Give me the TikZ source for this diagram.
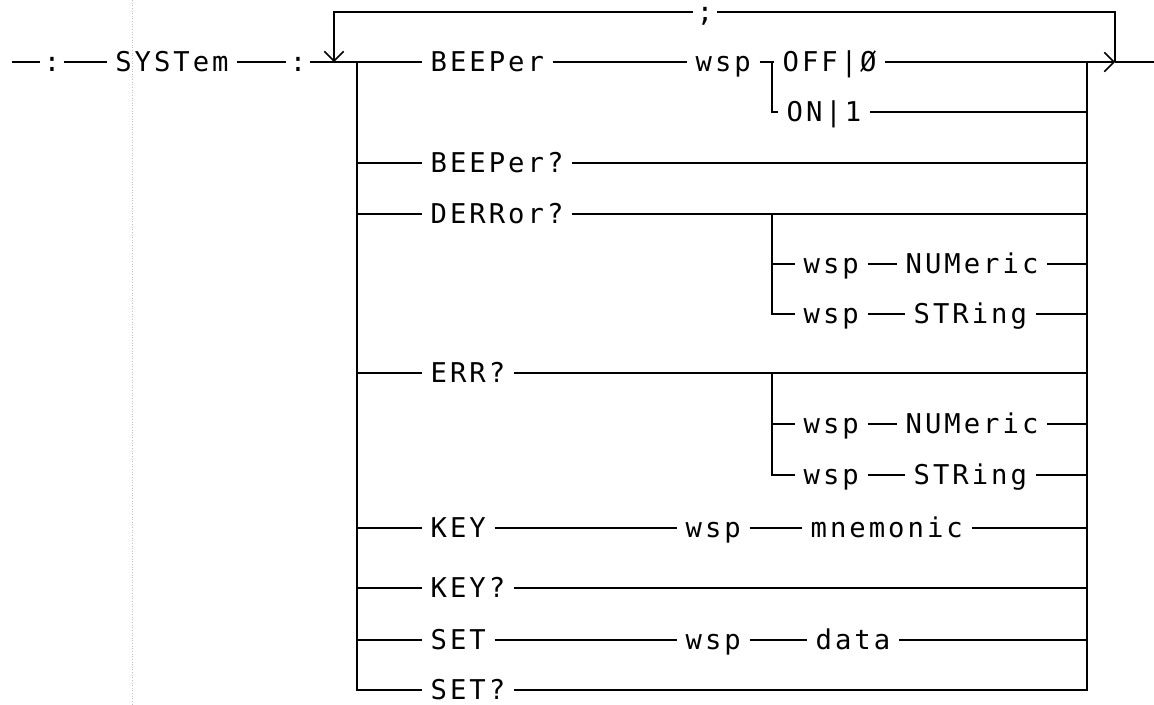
\documentclass[tikz,border=0pt]{standalone}
\usepackage{fontspec}
\setmonofont{DejaVu Sans Mono}[LetterSpace=11]
\usetikzlibrary{arrows.meta}

\begin{document}
\begin{tikzpicture}[x=0.02cm,y=-0.02cm,line width=0.9pt,
  lbl/.style={font=\ttfamily\fontsize{15.5}{18}\selectfont,text height=11.3pt,text depth=0pt,inner ysep=0pt,inner xsep=4.5pt,anchor=west},
  sep/.style={lbl,inner xsep=1.5pt,anchor=center},
  tip/.style={-{Straight Barb[length=5.5pt,width=11pt]}}]
\useasboundingbox (0,0) rectangle (1154,704);
\draw[gray!50,densely dotted,line width=0.5pt] (132,0) -- (132,704);
\coordinate (in) at (12,62);
\node[sep] (c1) at (52,62) {:};
\node[lbl,anchor=center] (sys) at (172,62) {SYSTem};
\node[sep] (c2) at (298,62) {:};
\coordinate (lp) at (334,62);
\coordinate (lt) at (357,62);
\coordinate (lb) at (357,690);
\coordinate (rt) at (1087,62);
\coordinate (rb) at (1087,690);
\coordinate (ret) at (1115,62);
\coordinate (out) at (1154,62);
\node[sep] (semi) at (705,12) {;};
\node[lbl] (bee) at (422,62) {BEEPer};
\node[lbl] (wsp1) at (687,62) {wsp};
\coordinate (t1) at (772,62);
\node[lbl] (off) at (774,62) {OFF|Ø};
\node[lbl] (on) at (778,112) {ON|1};
\node[lbl] (beeq) at (422,163) {BEEPer?};
\node[lbl] (derr) at (422,214) {DERRor?};
\coordinate (s1) at (772,214);
\node[lbl] (wsp2) at (795,264) {wsp};
\node[lbl] (num1) at (897,264) {NUMeric};
\node[lbl] (wsp3) at (795,314) {wsp};
\node[lbl] (str1) at (905,314) {STRing};
\node[lbl] (err) at (422,373) {ERR?};
\coordinate (s2) at (772,373);
\node[lbl] (wsp4) at (795,424) {wsp};
\node[lbl] (num2) at (897,424) {NUMeric};
\node[lbl] (wsp5) at (795,475) {wsp};
\node[lbl] (str2) at (905,475) {STRing};
\node[lbl] (key) at (422,528) {KEY};
\node[lbl] (wsp6) at (677,528) {wsp};
\node[lbl] (mnem) at (802,528) {mnemonic};
\node[lbl] (keyq) at (422,588) {KEY?};
\node[lbl] (set) at (422,640) {SET};
\node[lbl] (wsp7) at (677,640) {wsp};
\node[lbl] (data) at (807,640) {data};
\node[lbl] (setq) at (422,690) {SET?};
\draw (in) -- (c1) -- (sys) -- (c2) -- (bee) -- (wsp1) -- (off);
\draw[tip] (off) -- (ret);
\draw (ret) -- (out);
\draw (ret) -- (ret |- semi) -- (semi);
\draw[tip] (semi) -- (lp |- semi) -- (lp);
\draw (t1) -- (t1 |- on) -- (on) -- (rt |- on);
\draw (lt) -- (lb) -- (setq) -- (rb) -- (rt);
\draw (lt |- beeq) -- (beeq) -- (rt |- beeq);
\draw (lt |- derr) -- (derr) -- (rt |- derr);
\draw (s1) -- (s1 |- wsp3) -- (wsp3) -- (str1) -- (rt |- str1);
\draw (s1 |- wsp2) -- (wsp2) -- (num1) -- (rt |- num1);
\draw (lt |- err) -- (err) -- (rt |- err);
\draw (s2) -- (s2 |- wsp5) -- (wsp5) -- (str2) -- (rt |- str2);
\draw (s2 |- wsp4) -- (wsp4) -- (num2) -- (rt |- num2);
\draw (lt |- key) -- (key) -- (wsp6) -- (mnem) -- (rt |- key);
\draw (lt |- keyq) -- (keyq) -- (rt |- keyq);
\draw (lt |- set) -- (set) -- (wsp7) -- (data) -- (rt |- set);
\end{tikzpicture}
\end{document}
